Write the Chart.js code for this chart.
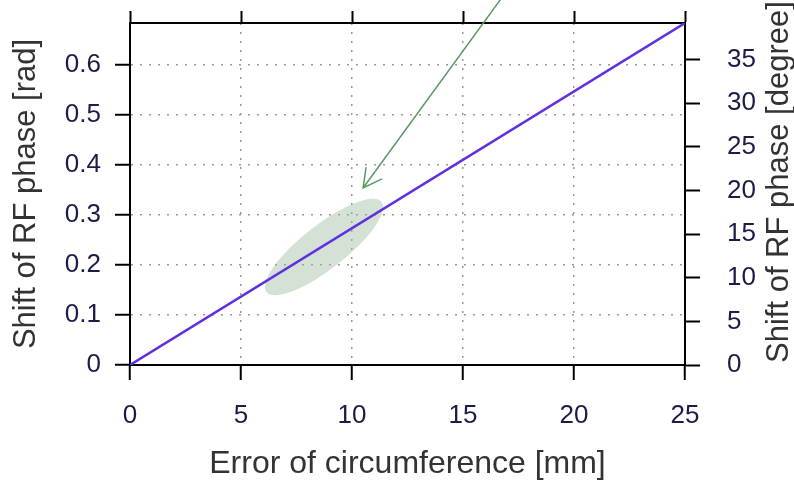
<!DOCTYPE html>
<html>
<head>
<meta charset="utf-8">
<script src="https://cdn.jsdelivr.net/npm/chart.js@4.4.1/dist/chart.umd.min.js"></script>
<style>
  html, body { margin: 0; padding: 0; background: #fff; }
  #wrap { width: 794px; height: 480px; }
</style>
</head>
<body>
<div id="wrap"><canvas id="chart"></canvas></div>
<script>
const errorMm = [0, 25];
const phaseRad = [0, 0.684];
const xTicks = [0, 5, 10, 15, 20, 25];
const radTicks = [0, 0.1, 0.2, 0.3, 0.4, 0.5, 0.6];
const degTicks = [0, 5, 10, 15, 20, 25, 30, 35];

const radMax = 0.684;
const degMax = radMax * 180 / Math.PI;

const FONT = "'Liberation Sans', Arial, sans-serif";
const tickFont = { family: FONT, size: 26 };
const tickColor = '#1c1c48';
const titleColor = '#333';

// dotted grid, but not on the frame itself
const gridColor = (edge) => (ctx) => (ctx.tick && edge.includes(ctx.tick.value)) ? 'rgba(0,0,0,0)' : '#999';

// fixed box sizes so the plot area sits where the reference has it
const fixSize = (prop, size) => (s) => {
  s[prop] = size;
  s.paddingTop = 0; s.paddingBottom = 0; s.paddingLeft = 0; s.paddingRight = 0;
};

const annotate = {
  id: 'annotate',
  beforeDatasetsDraw(chart) {
    const { ctx, scales: { x, y } } = chart;
    // shaded ellipse round the line
    ctx.save();
    ctx.translate(x.getPixelForValue(8.74), y.getPixelForValue(0.236));
    ctx.rotate(-38 * Math.PI / 180);
    ctx.beginPath();
    ctx.ellipse(0, 0, 73, 22, 0, 0, Math.PI * 2);
    ctx.fillStyle = 'rgba(150,185,155,0.42)';
    ctx.fill();
    ctx.restore();
  },
  afterDraw(chart) {
    const { ctx, scales: { x, y } } = chart;
    // arrow coming in from above
    const x0 = x.getPixelForValue(17.0), y0 = y.getPixelForValue(0.75);
    const x1 = x.getPixelForValue(10.5), y1 = y.getPixelForValue(0.354);
    const ang = Math.atan2(y0 - y1, x0 - x1);
    const head = 21, spread = 28 * Math.PI / 180;
    ctx.save();
    ctx.strokeStyle = '#5a9a65';
    ctx.lineWidth = 1.5;
    ctx.beginPath();
    ctx.moveTo(x0, y0);
    ctx.lineTo(x1, y1);
    ctx.moveTo(x1 + head * Math.cos(ang - spread), y1 + head * Math.sin(ang - spread));
    ctx.lineTo(x1, y1);
    ctx.lineTo(x1 + head * Math.cos(ang + spread), y1 + head * Math.sin(ang + spread));
    ctx.stroke();
    ctx.restore();

    // right axis title reads bottom to top, like the left one
    ctx.save();
    ctx.translate(779, 363);
    ctx.rotate(-Math.PI / 2);
    ctx.font = `31px ${FONT}`;
    ctx.fillStyle = titleColor;
    ctx.textAlign = 'left';
    ctx.textBaseline = 'middle';
    ctx.fillText('Shift of RF phase [degree]', 0, 0);
    ctx.restore();
  }
};

new Chart(document.getElementById('chart'), {
  type: 'line',
  data: {
    datasets: [{
      data: errorMm.map((v, i) => ({ x: v, y: phaseRad[i] })),
      borderColor: '#6030e0',
      borderWidth: 2.5,
      pointRadius: 0,
      tension: 0,
      xAxisID: 'x',
      yAxisID: 'y'
    }]
  },
  options: {
    responsive: true,
    maintainAspectRatio: false,
    animation: false,
    layout: { padding: 0 },
    plugins: { legend: { display: false }, tooltip: { enabled: false } },
    scales: {
      x: {
        type: 'linear',
        position: 'bottom',
        min: 0,
        max: 25,
        afterBuildTicks: s => { s.ticks = xTicks.map(v => ({ value: v })); },
        afterFit: fixSize('height', 115),
        grid: { color: gridColor([0, 25]), lineWidth: 1.5, tickLength: 15, tickColor: '#000', tickWidth: 2 },
        border: { color: '#000', width: 2, dash: [2, 7] },
        ticks: { font: tickFont, color: tickColor, padding: 20, maxRotation: 0, callback: v => String(v) },
        title: {
          display: true,
          text: 'Error of circumference [mm]',
          font: { family: FONT, size: 32, lineHeight: 1 },
          color: titleColor,
          padding: 0
        }
      },
      x2: {
        type: 'linear',
        position: 'top',
        min: 0,
        max: 25,
        afterBuildTicks: s => { s.ticks = xTicks.map(v => ({ value: v })); },
        afterFit: fixSize('height', 23),
        grid: { drawOnChartArea: false, tickLength: 12, tickColor: '#000', tickWidth: 2 },
        border: { color: '#000', width: 2 },
        ticks: { display: false }
      },
      y: {
        type: 'linear',
        position: 'left',
        min: 0,
        max: radMax,
        afterBuildTicks: s => { s.ticks = radTicks.map(v => ({ value: v })); },
        afterFit: fixSize('width', 130),
        grid: { color: gridColor([0]), lineWidth: 1.5, tickLength: 15, tickColor: '#000', tickWidth: 2 },
        border: { color: '#000', width: 2, dash: [2, 7] },
        ticks: { font: tickFont, color: tickColor, padding: 14, callback: v => String(v) },
        title: {
          display: true,
          text: 'Shift of RF phase [rad]',
          font: { family: FONT, size: 31, lineHeight: 1 },
          color: titleColor,
          padding: { top: 11, bottom: 0 }
        }
      },
      y2: {
        type: 'linear',
        position: 'right',
        min: 0,
        max: degMax,
        afterBuildTicks: s => { s.ticks = degTicks.map(v => ({ value: v })); },
        afterFit: fixSize('width', 109),
        grid: { drawOnChartArea: false, tickLength: 15, tickColor: '#000', tickWidth: 2 },
        border: { color: '#000', width: 2 },
        ticks: { font: tickFont, color: tickColor, padding: 27, callback: v => String(v) }
      }
    }
  },
  plugins: [annotate]
});
</script>
</body>
</html>
